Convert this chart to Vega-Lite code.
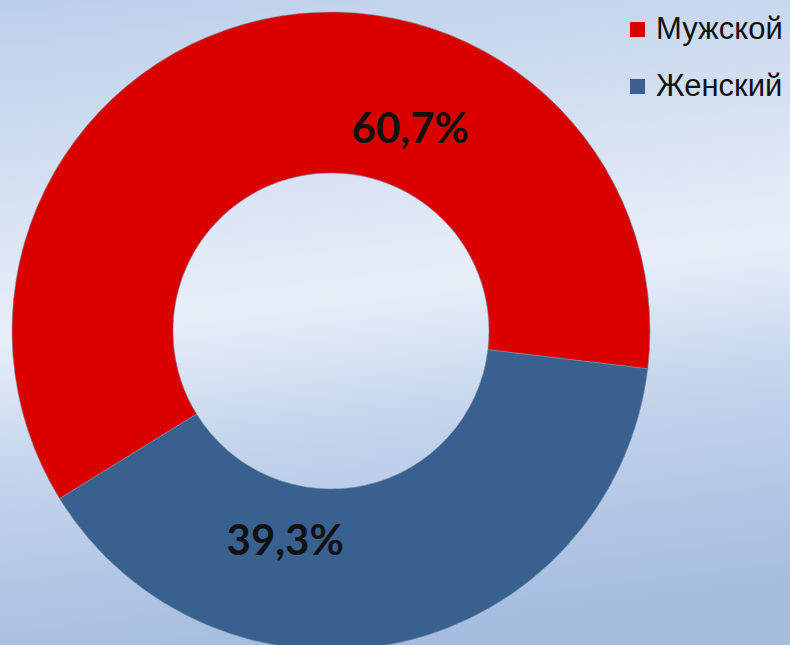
{
  "$schema": "https://vega.github.io/schema/vega-lite/v6.json",
  "width": 790,
  "height": 662,
  "padding": 0,
  "autosize": {"type": "none"},
  "background": "#c8d7ee",
  "view": {
    "stroke": null,
    "fill": {
      "gradient": "linear",
      "x1": 0, "y1": 0, "x2": 0.15, "y2": 1,
      "stops": [
        {"offset": 0, "color": "#bccfea"},
        {"offset": 0.3, "color": "#d6e1f2"},
        {"offset": 0.5, "color": "#e8eff9"},
        {"offset": 0.7, "color": "#c4d4ec"},
        {"offset": 1, "color": "#a6bde0"}
      ]
    }
  },
  "data": {
    "values": [
      {"category": "Мужской", "value": 60.7, "label": "60,7%", "ord": 1},
      {"category": "Женский", "value": 39.3, "label": "39,3%", "ord": 2}
    ]
  },
  "encoding": {
    "theta": {
      "field": "value",
      "type": "quantitative",
      "stack": true,
      "scale": {"range": [4.159, 10.442]}
    },
    "order": {"field": "ord", "type": "quantitative"}
  },
  "layer": [
    {
      "mark": {
        "type": "arc",
        "outerRadius": 319,
        "innerRadius": 158,
        "x": {"expr": "height/2"},
        "y": {"expr": "height/2"},
        "stroke": "#7f8fa8",
        "strokeWidth": 0.6
      },
      "encoding": {
        "color": {
          "field": "category",
          "type": "nominal",
          "scale": {"domain": ["Мужской", "Женский"], "range": ["#da0000", "#38618f"]},
          "legend": {
            "title": null,
            "orient": "none",
            "legendX": 622,
            "legendY": 14,
            "padding": 0,
            "symbolType": "square",
            "symbolSize": 225,
            "symbolStrokeWidth": 0,
            "labelFont": "Liberation Sans",
            "labelFontSize": 31,
            "labelColor": "#111111",
            "labelOffset": 3,
            "rowPadding": 25,
            "labelLimit": 300
          }
        }
      }
    },
    {
      "mark": {
        "type": "text",
        "radius": 216,
        "thetaOffset": {"expr": "datum.category == 'Мужской' ? 0.593 : 0.431"},
        "x": {"expr": "height/2"},
        "y": {"expr": "height/2"},
        "font": "Lato",
        "fontWeight": "bold",
        "fontSize": 42,
        "color": "#111111",
        "baseline": "middle",
        "align": "center"
      },
      "encoding": {
        "text": {"field": "label", "type": "nominal"}
      }
    }
  ]
}
